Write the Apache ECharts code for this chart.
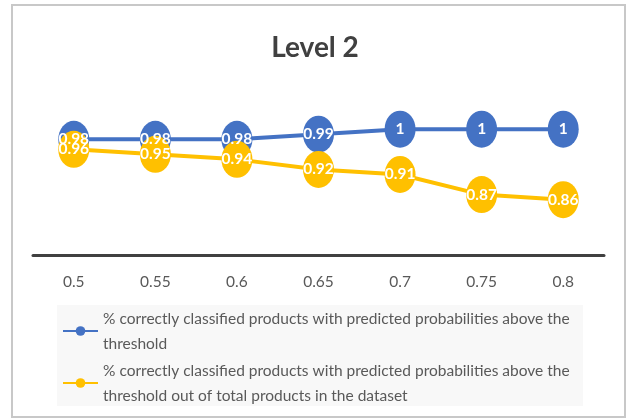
<!DOCTYPE html>
<html>
<head>
<meta charset="utf-8">
<script src="https://cdn.jsdelivr.net/npm/echarts@6/dist/echarts.min.js"></script>
<style>
html,body{margin:0;padding:0;background:#fff;}
#chart{width:630px;height:419px;}
</style>
</head>
<body>
<div id="chart"></div>
<script>
const categories = ['0.5', '0.55', '0.6', '0.65', '0.7', '0.75', '0.8'];
const seriesAName = '% correctly classified products with predicted probabilities above the threshold';
const seriesAValues = [0.98, 0.98, 0.98, 0.99, 1, 1, 1];
const seriesBName = '% correctly classified products with predicted probabilities above the threshold out of total products in the dataset';
const seriesBValues = [0.96, 0.95, 0.94, 0.92, 0.91, 0.87, 0.86];
const titleText = 'Level 2';

const chart = echarts.init(document.getElementById('chart'), null, {renderer: 'canvas'});
const FONT = 'Lato';
function makeSeries(name, data, color) {
  return {
    name: name,
    type: 'line',
    data: data,
    symbol: 'circle',
    symbolSize: [31, 37],
    lineStyle: {color: color, width: 4},
    itemStyle: {color: color},
    label: {
      show: true,
      position: 'inside',
      color: '#ffffff',
      fontFamily: FONT,
      fontSize: 15.5,
      fontWeight: 'bold'
    },
    emphasis: {disabled: true},
    animation: false
  };
}
chart.setOption({
  backgroundColor: '#ffffff',
  animation: false,
  title: {
    text: titleText,
    left: 'center',
    top: 29,
    textStyle: {fontFamily: FONT, fontSize: 28, fontWeight: 'bold', color: '#404040'}
  },
  graphic: [
    {type: 'rect', shape: {x: 12, y: 5, width: 613, height: 412}, style: {fill: 'none', stroke: '#c8c8c8', lineWidth: 2}, z: -10},
    {type: 'rect', shape: {x: 57, y: 305, width: 526, height: 101}, style: {fill: '#f8f8f8'}, z: -5}
  ],
  grid: {left: 33, right: 26, top: 104, height: 151, containLabel: false},
  xAxis: {
    type: 'category',
    data: categories,
    boundaryGap: true,
    axisLine: {lineStyle: {color: '#404040', width: 3}},
    axisTick: {show: false},
    axisLabel: {color: '#595959', fontFamily: FONT, fontSize: 15.5, margin: 19}
  },
  yAxis: {
    type: 'value',
    min: 0.75,
    max: 1.05,
    interval: 0.05,
    show: false,
    splitLine: {show: false}
  },
  legend: {
    orient: 'vertical',
    left: 62,
    top: 306,
    itemWidth: 35,
    itemHeight: 12,
    itemGap: 2,
    padding: 0,
    textStyle: {
      color: '#595959',
      fontFamily: FONT,
      fontSize: 15.5,
      lineHeight: 25,
      width: 478,
      overflow: 'break'
    },
    data: [seriesAName, seriesBName]
  },
  series: [
    makeSeries(seriesAName, seriesAValues, '#4472C4'),
    makeSeries(seriesBName, seriesBValues, '#FFC000')
  ]
});
</script>
</body>
</html>
